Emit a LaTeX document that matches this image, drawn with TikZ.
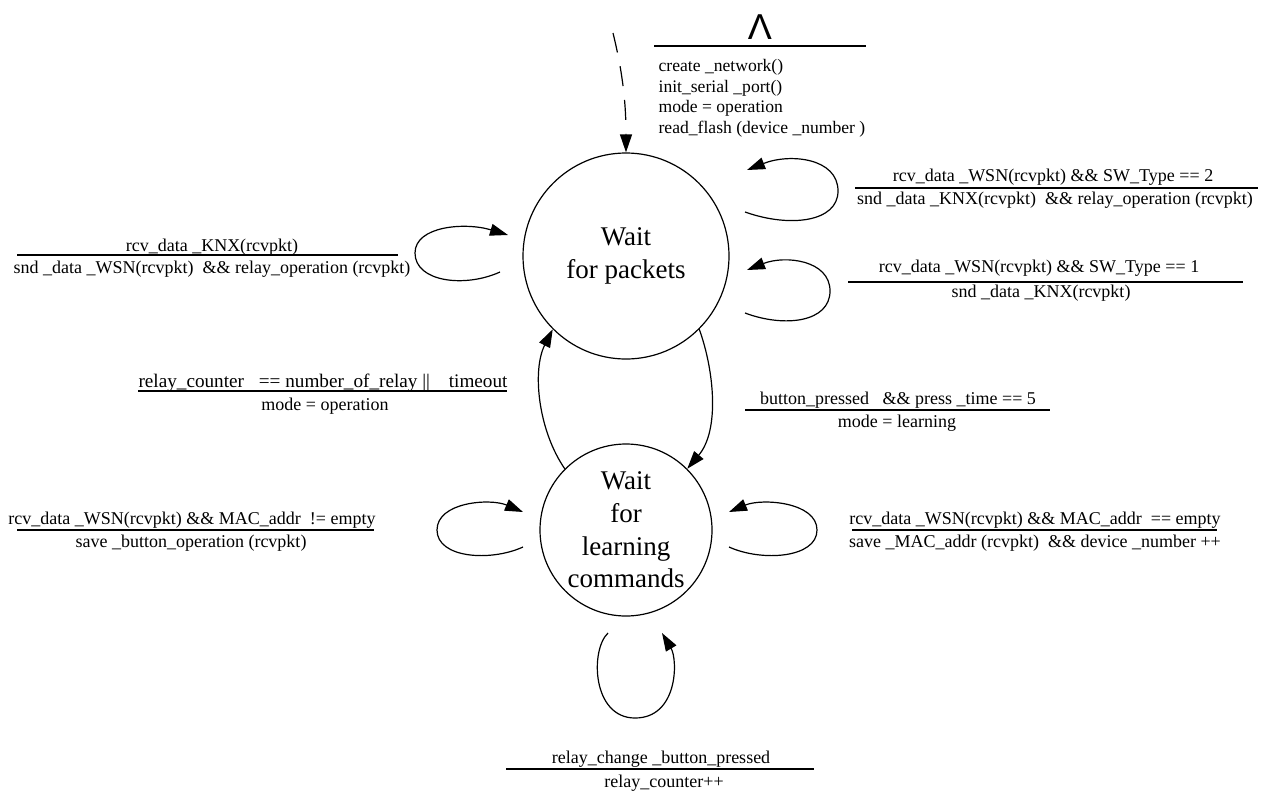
\documentclass[tikz,border=0pt]{standalone}
\usepackage{fontspec}
\setmainfont{Liberation Serif}
\newfontfamily\symfont{Liberation Sans}
\usetikzlibrary{arrows.meta}
\begin{document}
\begin{tikzpicture}[x=0.5pt,y=-0.5pt,
  line width=0.6pt,
  statenode/.style={circle,draw,inner sep=0pt,align=center,font=\fontsize{13.5}{16.3}\selectfont},
  lbl/.style={inner sep=0pt,font=\fontsize{9}{10}\selectfont},
  tr/.style={-{Triangle[length=9pt,width=6pt]}},
  frac/.style={line width=0.6pt}]
\useasboundingbox (0,0) rectangle (1267,793);

% states
\node[statenode,minimum size=103pt] (p) at (626,256) {Wait\\for packets};
\node[statenode,minimum size=86pt] (l) at (626,530) {Wait\\for\\learning\\commands};

% initial transition
\coordinate (init) at (613,33);
\draw[tr,dash pattern=on 10pt off 7pt] (init) .. controls (622,70) and (626,100) .. (p.north);
\node[inner sep=0pt,font=\symfont\fontsize{18}{18}\selectfont] (lam) at (760,27) {Λ};
\draw[frac] (654,46) -- (866,46);
\node[inner sep=0pt,anchor=north west,align=left,font=\fontsize{8.8}{10.25}\selectfont] (act) at (658,59)
  {create \_network()\\init\_serial \_port()\\mode = operation\\read\_flash (device \_number )};

% transitions between states
\draw[tr] (l.135) .. controls (538,430) and (532,370) .. (p.225);
\draw[tr] (p.-45) .. controls (714,370) and (720,430) .. (l.45);

% self loops on p
\coordinate (pa1) at (745,212); \coordinate (pa2) at (747,170);
\draw[tr] (pa1) .. controls (790,228) and (838,222) .. (838,191) .. controls (838,158) and (790,153) .. (pa2);
\coordinate (pb1) at (745,313); \coordinate (pb2) at (747,270);
\draw[tr] (pb1) .. controls (785,328) and (830,322) .. (830,291) .. controls (830,260) and (785,255) .. (pb2);
\coordinate (pc1) at (500,272); \coordinate (pc2) at (508,235);
\draw[tr] (pc1) .. controls (465,288) and (415,282) .. (415,253) .. controls (415,226) and (465,222) .. (pc2);

% self loops on l
\coordinate (la1) at (523,547); \coordinate (la2) at (523,512);
\draw[tr] (la1) .. controls (490,562) and (437,558) .. (437,530) .. controls (437,502) and (490,498) .. (la2);
\coordinate (lb1) at (729,547); \coordinate (lb2) at (729,512);
\draw[tr] (lb1) .. controls (762,562) and (817,558) .. (817,530) .. controls (817,502) and (762,498) .. (lb2);
\coordinate (lc1) at (608,633); \coordinate (lc2) at (662,633);
\draw[tr] (lc1) .. controls (590,650) and (592,718) .. (635,718) .. controls (678,718) and (678,660) .. (lc2);

% labels
\node[lbl] (t1n) at (212,247) {rcv\_data \_KNX(rcvpkt)};
\draw[frac] (17,255) -- (398,255);
\node[lbl] (t1d) at (212,269) {snd \_data \_WSN(rcvpkt)~ \&\& relay\_operation (rcvpkt)};

\node[lbl] (t2n) at (1053,177) {rcv\_data \_WSN(rcvpkt) \&\& SW\_Type == 2};
\draw[frac] (855,188) -- (1258,188);
\node[lbl] (t2d) at (1055,200) {snd \_data \_KNX(rcvpkt)~ \&\& relay\_operation (rcvpkt)};

\node[lbl] (t3n) at (1039,268) {rcv\_data \_WSN(rcvpkt) \&\& SW\_Type == 1};
\draw[frac] (848,282) -- (1243,282);
\node[lbl] (t3d) at (1041,293) {snd \_data \_KNX(rcvpkt)};

\node[lbl,font=\fontsize{9.6}{10}\selectfont] (t4n) at (323,383) {relay\_counter\hspace{5pt} == number\_of\_relay ||\hspace{7pt} timeout};
\draw[frac] (138,391) -- (507,391);
\node[lbl] (t4d) at (325,406) {mode = operation};

\node[lbl] (t5n) at (898,400) {button\_pressed~~ \&\& press \_time == 5};
\draw[frac] (745,410) -- (1050,410);
\node[lbl] (t5d) at (897,423) {mode = learning};

\node[lbl] (t6n) at (1035,520) {rcv\_data \_WSN(rcvpkt) \&\& MAC\_addr~ == empty};
\draw[frac] (852,530) -- (1217,530);
\node[lbl] (t6d) at (1035,543) {save \_MAC\_addr (rcvpkt)~ \&\& device \_number ++};

\node[lbl] (t7n) at (192,520) {rcv\_data \_WSN(rcvpkt) \&\& MAC\_addr~ != empty};
\draw[frac] (17,530) -- (374,530);
\node[lbl] (t7d) at (191,543) {save \_button\_operation (rcvpkt)};

\node[lbl] (t8n) at (661,759) {relay\_change \_button\_pressed};
\draw[frac] (506,769) -- (814,769);
\node[lbl] (t8d) at (664,783) {relay\_counter++};
\end{tikzpicture}
\end{document}
